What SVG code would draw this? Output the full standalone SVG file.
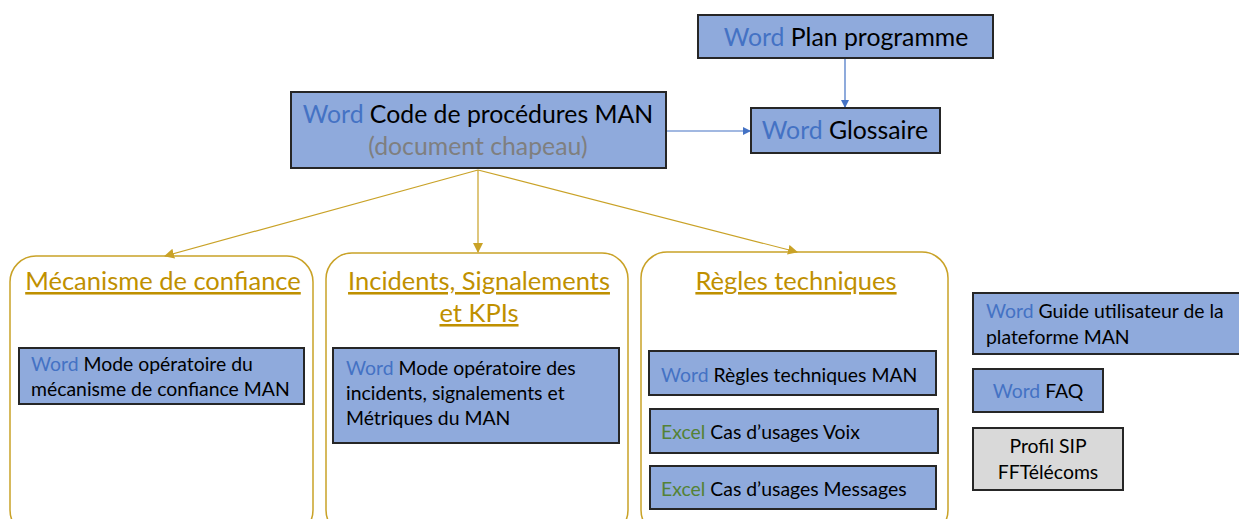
<svg xmlns="http://www.w3.org/2000/svg" width="1239" height="519" viewBox="0 0 1239 519">
<style>
.box{fill:#8FAADC;stroke:#262626;stroke-width:2}
.grey{fill:#D9D9D9;stroke:#262626;stroke-width:2}
.cont{fill:#fff;stroke:#C9A227;stroke-width:1.5}
text{font-family:Lato,"Open Sans","Liberation Sans",sans-serif;fill:#000}
.w{fill:#4472C4}
.x{fill:#548235}
.g{fill:#7F7F7F}
.big{font-size:24.8px}
.sm{font-size:19.4px}
.t{fill:#BF9000;font-size:25.5px;text-decoration:underline}
.blue{stroke:#4472C4;stroke-width:1.2;fill:none}
.gold{stroke:#C9A227;stroke-width:1.2;fill:none}
</style>
<defs>
<marker id="ab" markerWidth="8" markerHeight="8" refX="7" refY="4" orient="auto" markerUnits="userSpaceOnUse"><path d="M0,0 L8,4 L0,8 z" fill="#4472C4"/></marker>
<marker id="ag" markerWidth="10" markerHeight="10" refX="9" refY="5" orient="auto" markerUnits="userSpaceOnUse"><path d="M0,0 L10,5 L0,10 z" fill="#C9A227"/></marker>
</defs>
<rect width="1239" height="519" fill="#fff"/>

<g id="c1"><rect class="cont" x="10" y="256" width="303" height="280" rx="26"/>
<text class="t" x="163" y="290" text-anchor="middle">Mécanisme de confiance</text></g>
<g id="c2"><rect class="cont" x="326" y="253" width="302" height="283" rx="26"/>
<text class="t" x="479" y="290" text-anchor="middle">Incidents, Signalements</text>
<text class="t" x="479" y="322" text-anchor="middle">et KPIs</text></g>
<g id="c3"><rect class="cont" x="641" y="252" width="307" height="284" rx="26"/>
<text class="t" x="796" y="290" text-anchor="middle">Règles techniques</text></g>

<g id="connectors">
<line class="blue" x1="845" y1="58" x2="845" y2="107" marker-end="url(#ab)"/>
<line class="blue" x1="667" y1="131" x2="750" y2="131" marker-end="url(#ab)"/>
<line class="gold" x1="478" y1="170" x2="165" y2="256" marker-end="url(#ag)"/>
<line class="gold" x1="478" y1="170" x2="478" y2="252" marker-end="url(#ag)"/>
<line class="gold" x1="478" y1="170" x2="797" y2="252" marker-end="url(#ag)"/>
</g>

<g id="plan"><rect class="box" x="698" y="15" width="295" height="43"/>
<text class="big" x="846" y="46" text-anchor="middle"><tspan class="w">Word</tspan> Plan programme</text></g>
<g id="code"><rect class="box" x="291" y="92" width="375" height="76"/>
<text class="big" x="478" y="123" text-anchor="middle"><tspan class="w">Word</tspan> Code de procédures MAN</text>
<text class="big g" x="478" y="155" text-anchor="middle">(document chapeau)</text></g>
<g id="glossaire"><rect class="box" x="751" y="108" width="189" height="45"/>
<text class="big" x="845" y="139" text-anchor="middle"><tspan class="w">Word</tspan> Glossaire</text></g>

<g id="mode1"><rect class="box" x="19" y="348" width="285" height="56"/>
<text class="sm" x="31" y="371"><tspan class="w">Word</tspan> Mode opératoire du</text>
<text class="sm" x="31" y="396">mécanisme de confiance MAN</text></g>
<g id="mode2"><rect class="box" x="333" y="348" width="286" height="95"/>
<text class="sm" x="346" y="375"><tspan class="w">Word</tspan> Mode opératoire des</text>
<text class="sm" x="346" y="400">incidents, signalements et</text>
<text class="sm" x="346" y="425">Métriques du MAN</text></g>
<g id="regles"><rect class="box" x="649" y="351" width="287" height="44"/>
<text class="sm" x="661" y="382"><tspan class="w">Word</tspan> Règles techniques MAN</text></g>
<g id="voix"><rect class="box" x="650" y="409" width="288" height="44"/>
<text class="sm" x="661" y="439"><tspan class="x">Excel</tspan> Cas d’usages Voix</text></g>
<g id="messages"><rect class="box" x="650" y="466" width="286" height="43"/>
<text class="sm" x="661" y="496"><tspan class="x">Excel</tspan> Cas d’usages Messages</text></g>

<g id="guide"><rect class="box" x="973" y="293" width="270" height="61"/>
<text class="sm" x="986" y="318"><tspan class="w">Word</tspan> Guide utilisateur de la</text>
<text class="sm" x="986" y="344">plateforme MAN</text></g>
<g id="faq"><rect class="box" x="973" y="369" width="130" height="43"/>
<text class="sm" x="1038" y="398" text-anchor="middle"><tspan class="w">Word</tspan> FAQ</text></g>
<g id="profil"><rect class="grey" x="973" y="428" width="150" height="62"/>
<text class="sm" x="1048" y="453" text-anchor="middle">Profil SIP</text>
<text class="sm" x="1048" y="479" text-anchor="middle">FFTélécoms</text></g>
</svg>
